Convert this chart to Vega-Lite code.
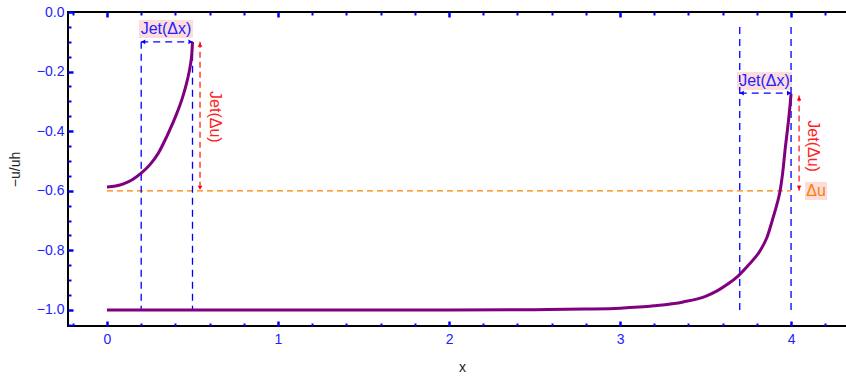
{
  "$schema": "https://vega.github.io/schema/vega-lite/v6.json",
  "autosize": "none",
  "padding": {"left": 68, "top": 12, "right": 0, "bottom": 50},
  "width": 780,
  "height": 314,
  "config": {
    "view": {"stroke": "black", "strokeWidth": 2},
    "axis": {"grid": false, "domain": false, "labelFont": "Liberation Sans", "titleFont": "Liberation Sans", "labelFlush": false, "labelOverlap": false}
  },
  "datasets": {
    "curves": [
      {"series": "A", "x": 0, "y": -0.587},
      {"series": "A", "x": 0.05, "y": -0.584},
      {"series": "A", "x": 0.1, "y": -0.576},
      {"series": "A", "x": 0.15, "y": -0.562},
      {"series": "A", "x": 0.2, "y": -0.541},
      {"series": "A", "x": 0.25, "y": -0.513},
      {"series": "A", "x": 0.3, "y": -0.474},
      {"series": "A", "x": 0.35, "y": -0.417},
      {"series": "A", "x": 0.4, "y": -0.352},
      {"series": "A", "x": 0.44, "y": -0.29},
      {"series": "A", "x": 0.47, "y": -0.228},
      {"series": "A", "x": 0.487, "y": -0.18},
      {"series": "A", "x": 0.496, "y": -0.14},
      {"series": "A", "x": 0.5, "y": -0.1},
      {"series": "B", "x": 0, "y": -1.0},
      {"series": "B", "x": 1, "y": -1.0},
      {"series": "B", "x": 2, "y": -1.0},
      {"series": "B", "x": 2.5, "y": -0.999},
      {"series": "B", "x": 2.8, "y": -0.997},
      {"series": "B", "x": 3.0, "y": -0.994},
      {"series": "B", "x": 3.2, "y": -0.986},
      {"series": "B", "x": 3.37, "y": -0.973},
      {"series": "B", "x": 3.5, "y": -0.954},
      {"series": "B", "x": 3.57, "y": -0.935},
      {"series": "B", "x": 3.63, "y": -0.913},
      {"series": "B", "x": 3.69, "y": -0.886},
      {"series": "B", "x": 3.75, "y": -0.85},
      {"series": "B", "x": 3.82, "y": -0.8},
      {"series": "B", "x": 3.86, "y": -0.755},
      {"series": "B", "x": 3.895, "y": -0.69},
      {"series": "B", "x": 3.92, "y": -0.64},
      {"series": "B", "x": 3.936, "y": -0.6},
      {"series": "B", "x": 3.955, "y": -0.52},
      {"series": "B", "x": 3.965, "y": -0.463},
      {"series": "B", "x": 3.98, "y": -0.39},
      {"series": "B", "x": 3.993, "y": -0.32},
      {"series": "B", "x": 4.0, "y": -0.275}
    ],
    "boxes": [
      {"x": 0.187, "x2": 0.503, "y": -0.027, "y2": -0.087},
      {"x": 3.684, "x2": 4.006, "y": -0.201, "y2": -0.262},
      {"x": 4.082, "x2": 4.211, "y": -0.57, "y2": -0.631}
    ],
    "orange": [
      {"x": 0, "x2": 4.0, "y": -0.6, "y2": -0.6}
    ],
    "blue": [
      {"x": 0.2, "x2": 0.2, "y": -0.1, "y2": -1.0},
      {"x": 0.5, "x2": 0.5, "y": -0.1, "y2": -1.0},
      {"x": 3.7, "x2": 3.7, "y": -0.05, "y2": -1.0},
      {"x": 4.0, "x2": 4.0, "y": -0.05, "y2": -1.0},
      {"x": 0.2, "x2": 0.5, "y": -0.1, "y2": -0.1},
      {"x": 3.7, "x2": 4.0, "y": -0.272, "y2": -0.272}
    ],
    "red": [
      {"x": 0.544, "x2": 0.544, "y": -0.1, "y2": -0.6},
      {"x": 4.047, "x2": 4.047, "y": -0.28, "y2": -0.6}
    ],
    "heads": [
      {"x": 0.212, "y": -0.1, "shape": "triangle-left", "color": "#0000ff"},
      {"x": 0.488, "y": -0.1, "shape": "triangle-right", "color": "#0000ff"},
      {"x": 3.712, "y": -0.272, "shape": "triangle-left", "color": "#0000ff"},
      {"x": 3.988, "y": -0.272, "shape": "triangle-right", "color": "#0000ff"},
      {"x": 0.544, "y": -0.11, "shape": "triangle-up", "color": "#ff0000"},
      {"x": 0.544, "y": -0.59, "shape": "triangle-down", "color": "#ff0000"},
      {"x": 4.047, "y": -0.29, "shape": "triangle-up", "color": "#ff0000"},
      {"x": 4.047, "y": -0.59, "shape": "triangle-down", "color": "#ff0000"}
    ],
    "labels": [
      {"text": "Jet(Δx)", "x": 0.345, "y": -0.058, "color": "#2222ff", "angle": 0},
      {"text": "Jet(Δx)", "x": 3.845, "y": -0.232, "color": "#2222ff", "angle": 0},
      {"text": "Jet(Δu)", "x": 0.632, "y": -0.352, "color": "#ff2222", "angle": 90},
      {"text": "Jet(Δu)", "x": 4.13, "y": -0.45, "color": "#ff2222", "angle": 90},
      {"text": "Δu", "x": 4.146, "y": -0.6, "color": "#ff8000", "angle": 0}
    ]
  },
  "resolve": {"axis": {"x": "independent", "y": "independent"}},
  "layer": [
    {
      "data": {"name": "boxes"},
      "mark": {"type": "rect", "color": "#fddcdc"},
      "encoding": {
        "x": {"field": "x", "type": "quantitative", "scale": {"domain": [-0.228, 4.333], "nice": false, "zero": false},
          "axis": {"orient": "bottom", "values": [-0.2, 0.2, 0.4, 0.6, 0.8, 1.2, 1.4, 1.6, 1.8, 2.2, 2.4, 2.6, 2.8, 3.2, 3.4, 3.6, 3.8, 4.2], "labels": false, "title": null, "tickSize": -3, "tickWidth": 2, "tickColor": "#0000ff"}},
        "x2": {"field": "x2"},
        "y": {"field": "y", "type": "quantitative", "scale": {"domain": [-1.0537, 0], "nice": false, "zero": false},
          "axis": {"orient": "left", "values": [-0.05, -0.1, -0.15, -0.25, -0.3, -0.35, -0.45, -0.5, -0.55, -0.65, -0.7, -0.75, -0.85, -0.9, -0.95, -1.05], "labels": false, "title": null, "tickSize": -3, "tickWidth": 2, "tickColor": "#0000ff"}},
        "y2": {"field": "y2"}
      }
    },
    {
      "data": {"name": "orange"},
      "mark": {"type": "rule", "color": "#ff8000", "strokeWidth": 1.2, "strokeDash": [6, 4]},
      "encoding": {
        "x": {"field": "x", "type": "quantitative", "scale": {"domain": [-0.228, 4.333], "nice": false, "zero": false},
          "axis": {"orient": "top", "values": [0, 1, 2, 3, 4], "labels": false, "title": null, "tickSize": -5, "tickWidth": 2.5, "tickColor": "#0000ff"}},
        "x2": {"field": "x2"},
        "y": {"field": "y", "type": "quantitative", "scale": {"domain": [-1.0537, 0], "nice": false, "zero": false}, "axis": null},
        "y2": {"field": "y2"}
      }
    },
    {
      "data": {"name": "blue"},
      "mark": {"type": "rule", "color": "#0000ff", "strokeWidth": 1.3, "strokeDash": [7, 5]},
      "encoding": {
        "x": {"field": "x", "type": "quantitative", "scale": {"domain": [-0.228, 4.333], "nice": false, "zero": false},
          "axis": {"orient": "top", "values": [-0.2, 0.2, 0.4, 0.6, 0.8, 1.2, 1.4, 1.6, 1.8, 2.2, 2.4, 2.6, 2.8, 3.2, 3.4, 3.6, 3.8, 4.2], "labels": false, "title": null, "tickSize": -3, "tickWidth": 2, "tickColor": "#0000ff"}},
        "x2": {"field": "x2"},
        "y": {"field": "y", "type": "quantitative", "scale": {"domain": [-1.0537, 0], "nice": false, "zero": false}, "axis": null},
        "y2": {"field": "y2"}
      }
    },
    {
      "data": {"name": "red"},
      "mark": {"type": "rule", "color": "#ff2222", "strokeWidth": 1.3, "strokeDash": [6, 4]},
      "encoding": {
        "x": {"field": "x", "type": "quantitative", "scale": {"domain": [-0.228, 4.333], "nice": false, "zero": false}, "axis": null},
        "x2": {"field": "x2"},
        "y": {"field": "y", "type": "quantitative", "scale": {"domain": [-1.0537, 0], "nice": false, "zero": false}, "axis": null},
        "y2": {"field": "y2"}
      }
    },
    {
      "data": {"name": "curves"},
      "mark": {"type": "line", "color": "#800080", "strokeWidth": 3, "interpolate": "monotone"},
      "encoding": {
        "x": {"field": "x", "type": "quantitative", "scale": {"domain": [-0.228, 4.333], "nice": false, "zero": false},
          "axis": {"orient": "bottom", "values": [0, 1, 2, 3, 4], "format": "d", "labelFontSize": 14, "labelColor": "#2222ff", "labelPadding": 11, "tickSize": -5, "tickWidth": 2.5, "tickColor": "#0000ff",
            "title": "x", "titleFontSize": 14, "titleFontWeight": "normal", "titleColor": "#222222", "titleX": 394, "titleY": 41, "titleBaseline": "middle", "titleAlign": "center"}},
        "y": {"field": "y", "type": "quantitative", "scale": {"domain": [-1.0537, 0], "nice": false, "zero": false},
          "axis": {"orient": "left", "values": [0, -0.2, -0.4, -0.6, -0.8, -1.0], "labelExpr": "replace(format(datum.value, '.1f'), '-', '−')", "labelFontSize": 14, "labelColor": "#2222ff", "labelPadding": 9, "tickSize": -5, "tickWidth": 2.5, "tickColor": "#0000ff",
            "title": "−u/uh", "titleFontSize": 14, "titleFontWeight": "normal", "titleColor": "#222222", "titleX": -53, "titleY": 157, "titleAngle": -90, "titleBaseline": "middle", "titleAlign": "center"}},
        "detail": {"field": "series"}
      }
    },
    {
      "data": {"name": "labels"},
      "mark": {"type": "text", "font": "Liberation Sans", "fontSize": 16, "align": "center", "baseline": "middle"},
      "encoding": {
        "x": {"field": "x", "type": "quantitative", "scale": {"domain": [-0.228, 4.333], "nice": false, "zero": false}, "axis": null},
        "y": {"field": "y", "type": "quantitative", "scale": {"domain": [-1.0537, 0], "nice": false, "zero": false}, "axis": null},
        "text": {"field": "text"},
        "color": {"field": "color", "type": "nominal", "scale": null},
        "angle": {"field": "angle", "type": "quantitative", "scale": null}
      }
    },
    {
      "data": {"name": "heads"},
      "mark": {"type": "point", "filled": true, "size": 22, "opacity": 1},
      "encoding": {
        "x": {"field": "x", "type": "quantitative", "scale": {"domain": [-0.228, 4.333], "nice": false, "zero": false}, "axis": null},
        "y": {"field": "y", "type": "quantitative", "scale": {"domain": [-1.0537, 0], "nice": false, "zero": false}, "axis": null},
        "shape": {"field": "shape", "type": "nominal", "scale": null},
        "color": {"field": "color", "type": "nominal", "scale": null}
      }
    }
  ]
}
